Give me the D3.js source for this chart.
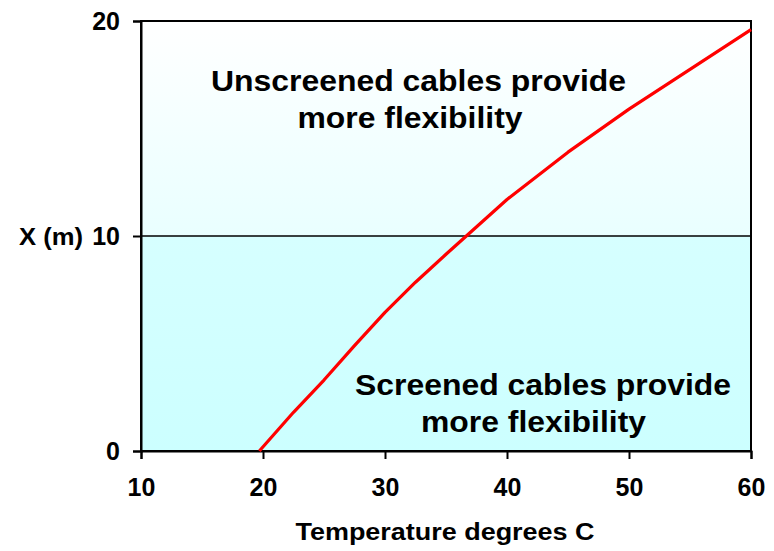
<!DOCTYPE html>
<html><head><meta charset="utf-8">
<script src="https://cdn.jsdelivr.net/npm/d3@7/dist/d3.min.js"></script>
<style>body{margin:0;background:#fff}svg{display:block}text{font-family:"Liberation Sans",Arial,sans-serif;font-weight:bold;fill:#000}</style>
</head><body><svg id="c" width="774" height="551"></svg>
<script>
const temps = [19.7, 22.5, 25, 27.5, 30, 32.5, 35, 40, 45, 50, 55, 60];
const xValues = [0, 1.8, 3.3, 4.9, 6.45, 7.85, 9.15, 11.7, 13.9, 15.9, 17.75, 19.6];
const xTicks = [10, 20, 30, 40, 50, 60];
const yTicks = [0, 10, 20];
const labelsUpper = ["Unscreened cables provide", "more flexibility"];
const labelsLower = ["Screened cables provide", "more flexibility"];
const xTitle = "Temperature degrees C";
const yTitle = "X (m)";

const svg = d3.select("#c");
const L = 141, R = 751, T = 21, B = 451;
const x = d3.scaleLinear().domain([10, 60]).range([L, R]);
const y = d3.scaleLinear().domain([0, 20]).range([B, T]);

const defs = svg.append("defs");
const g = defs.append("linearGradient").attr("id", "bg").attr("x1", 0).attr("y1", 0).attr("x2", 0).attr("y2", 1);
g.append("stop").attr("offset", "0%").attr("stop-color", "#ffffff");
g.append("stop").attr("offset", "50%").attr("stop-color", "#e9ffff");
g.append("stop").attr("offset", "50%").attr("stop-color", "#d6ffff");
g.append("stop").attr("offset", "100%").attr("stop-color", "#ccffff");

svg.append("rect").attr("x", L).attr("y", T).attr("width", R - L).attr("height", B - T).attr("fill", "url(#bg)");

svg.append("line").attr("x1", L).attr("x2", R).attr("y1", y(10)).attr("y2", y(10)).attr("stroke", "#000").attr("stroke-width", 1.5);

svg.append("rect").attr("x", L).attr("y", T).attr("width", R - L).attr("height", B - T).attr("fill", "none").attr("stroke", "#000").attr("stroke-width", 2);

const font = '"Liberation Sans",Arial,sans-serif';
const xAxis = d3.axisBottom(x).tickValues(xTicks).tickSize(8).tickPadding(19).tickFormat(d3.format("d"));
const gx = svg.append("g").attr("transform", `translate(0,${B})`).call(xAxis);
gx.select(".domain").attr("stroke-width", 2);
gx.selectAll(".tick line").attr("stroke-width", 2);
gx.selectAll(".tick text").attr("font-size", 25).attr("font-family", font).attr("font-weight", "bold").attr("fill", "#000");

const yAxis = d3.axisLeft(y).tickValues(yTicks).tickSize(8).tickPadding(13).tickFormat(d3.format("d"));
const gy = svg.append("g").attr("transform", `translate(${L},0)`).call(yAxis);
gy.select(".domain").attr("stroke-width", 2);
gy.selectAll(".tick line").attr("stroke-width", 2);
gy.selectAll(".tick text").attr("font-size", 25).attr("font-family", font).attr("font-weight", "bold").attr("fill", "#000");

const line = d3.line().x((d, i) => x(temps[i])).y(d => y(d));
svg.append("path").datum(xValues).attr("d", line).attr("fill", "none").attr("stroke", "#ff0000").attr("stroke-width", 3.2).attr("stroke-linejoin", "round");

svg.append("text").attr("x", 445).attr("y", 540).attr("text-anchor", "middle").attr("font-size", 23)
  .attr("textLength", 299).attr("lengthAdjust", "spacingAndGlyphs").text(xTitle);
svg.append("text").attr("x", 19).attr("y", 245).attr("font-size", 24)
  .attr("textLength", 64).attr("lengthAdjust", "spacingAndGlyphs").text(yTitle);

const upW = [415, 225], loW = [376, 225];
labelsUpper.forEach((t, i) => {
  svg.append("text").attr("x", i ? 410 : 418.5).attr("y", 91 + i * 37).attr("text-anchor", "middle").attr("font-size", 29)
    .attr("textLength", upW[i]).attr("lengthAdjust", "spacingAndGlyphs").text(t);
});
labelsLower.forEach((t, i) => {
  svg.append("text").attr("x", i ? 533.5 : 543).attr("y", 395 + i * 37).attr("text-anchor", "middle").attr("font-size", 29)
    .attr("textLength", loW[i]).attr("lengthAdjust", "spacingAndGlyphs").text(t);
});
</script></body></html>
